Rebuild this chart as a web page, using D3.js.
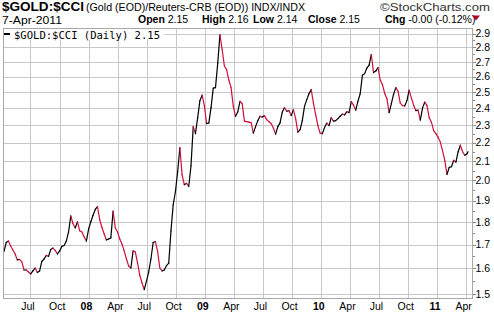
<!DOCTYPE html>
<html lang="en">
<head>
<meta charset="UTF-8" />
<title>$GOLD:$CCI</title>
<script src="https://d3js.org/d3.v7.min.js"></script>
<style>
  body { margin:0; padding:0; background:#fff; }
  svg { display:block; font-family:"Liberation Sans", Arial, sans-serif; }
  .grid line { stroke:#c8c8c8; stroke-width:1; shape-rendering:crispEdges; }
  .frame { fill:none; stroke:#a8a8a8; stroke-width:1; shape-rendering:crispEdges; }
</style>
</head>
<body>
<svg width="494" height="314"></svg>
<script>
(function(){
  // weekly closes of gold / Reuters-CRB, from the week of 9-Apr-2007, last one is 7-Apr-2011
  const firstWeek = new Date(2007, 3, 9);
  const lastDay = new Date(2011, 3, 7);
  const closes = [
    1.670, 1.709, 1.715, 1.694, 1.677, 1.660, 1.635, 1.637, 1.627, 1.594,
    1.594, 1.586, 1.578, 1.590, 1.602, 1.584, 1.590, 1.629, 1.639, 1.654,
    1.650, 1.679, 1.685, 1.675, 1.660, 1.673, 1.692, 1.696, 1.715, 1.755,
    1.828, 1.792, 1.773, 1.801, 1.760, 1.755, 1.733, 1.715, 1.768, 1.801,
    1.831, 1.858, 1.871, 1.810, 1.775, 1.746, 1.720, 1.724, 1.729, 1.850,
    1.773, 1.755, 1.724, 1.702, 1.673, 1.639, 1.610, 1.602, 1.673, 1.668,
    1.622, 1.572, 1.543, 1.517, 1.550, 1.586, 1.639, 1.709, 1.713, 1.671,
    1.602, 1.590, 1.594, 1.612, 1.622, 1.760, 1.880, 1.943, 2.044, 2.172,
    2.028, 1.978, 1.985, 1.970, 2.075, 2.291, 2.251, 2.344, 2.447, 2.481,
    2.416, 2.309, 2.312, 2.404, 2.526, 2.529, 2.689, 2.890, 2.785, 2.671,
    2.647, 2.578, 2.529, 2.412, 2.352, 2.377, 2.443, 2.428, 2.323, 2.320,
    2.317, 2.314, 2.254, 2.291, 2.326, 2.352, 2.347, 2.356, 2.332, 2.320,
    2.309, 2.283, 2.248, 2.291, 2.313, 2.377, 2.404, 2.382, 2.386, 2.356,
    2.392, 2.338, 2.259, 2.274, 2.326, 2.413, 2.453, 2.490, 2.516, 2.431,
    2.362, 2.297, 2.254, 2.251, 2.286, 2.312, 2.297, 2.344, 2.323, 2.326,
    2.338, 2.352, 2.365, 2.360, 2.380, 2.374, 2.441, 2.419, 2.389, 2.444,
    2.490, 2.610, 2.620, 2.657, 2.677, 2.750, 2.627, 2.637, 2.660, 2.578,
    2.548, 2.493, 2.459, 2.374, 2.428, 2.487, 2.529, 2.506, 2.431, 2.416,
    2.414, 2.447, 2.513, 2.463, 2.419, 2.386, 2.389, 2.329, 2.401, 2.438,
    2.416, 2.344, 2.317, 2.268, 2.251, 2.231, 2.203, 2.155, 2.104, 2.030,
    2.067, 2.070, 2.104, 2.094, 2.150, 2.186, 2.150, 2.131, 2.139,
    2.15
  ];
  const yTicks = [1.5, 1.6, 1.7, 1.8, 1.9, 2.0, 2.1, 2.2, 2.3, 2.4, 2.5, 2.6, 2.7, 2.8, 2.9];
  const yMinorTicks = [1.55, 1.65, 1.75, 1.85, 1.95, 2.05, 2.15, 2.25, 2.35, 2.45, 2.55, 2.65, 2.75, 2.85];
  const xTickLabels = ["Jul","Oct","08","Apr","Jul","Oct","09","Apr","Jul","Oct","10","Apr","Jul","Oct","11","Apr"];
  const stats = [["Open","2.15"],["High","2.16"],["Low","2.14"],["Close","2.15"],["Chg","-0.00 (-0.12%)"]];
  const statX = [138, 202, 253, 308, 385];

  const dates = d3.timeMonday.range(firstWeek, new Date(2011, 3, 5));
  dates.push(lastDay);
  const data = dates.map((d, i) => ({ date: d, v: closes[i] }));

  const svg = d3.select("svg");
  const L = 3.5, R = 472.5, T = 28.5, B = 298.5;

  const x = d3.scaleTime().domain([firstWeek, lastDay]).range([4, 468]);
  const y = d3.scaleLog().domain([1.5, 2.9]).range([294, 33.5]);

  // header
  svg.append("text").attr("x", 2).attr("y", 11)
    .attr("font-size", 12.5).attr("font-weight", "bold")
    .attr("textLength", 82).attr("lengthAdjust", "spacingAndGlyphs")
    .text("$GOLD:$CCI");
  svg.append("text").attr("x", 86).attr("y", 11).attr("font-size", 10)
    .attr("textLength", 219).attr("lengthAdjust", "spacingAndGlyphs")
    .text("(Gold (EOD)/Reuters-CRB (EOD)) INDX/INDX");
  svg.append("text").attr("x", 380).attr("y", 11).attr("font-size", 10).attr("fill", "#333")
    .attr("textLength", 110).attr("lengthAdjust", "spacingAndGlyphs")
    .text("\u00A9StockCharts.com");
  svg.append("text").attr("x", 2).attr("y", 23.5).attr("font-size", 10.5)
    .attr("textLength", 60).attr("lengthAdjust", "spacingAndGlyphs")
    .text("7-Apr-2011");
  stats.forEach((s, i) => {
    const t = svg.append("text").attr("x", statX[i]).attr("y", 23).attr("font-size", 10.5);
    t.append("tspan").attr("font-weight", "bold").text(s[0]);
    t.append("tspan").text(" " + s[1]);
  });
  svg.append("path").attr("d", "M472,15.5L480,15.5L476,20.5Z").attr("fill", "#a3002b");

  // grid
  const grid = svg.append("g").attr("class", "grid");
  const qTicks = d3.timeMonth.every(3).range(new Date(2007, 6, 1), new Date(2011, 4, 1));
  grid.selectAll(".v").data(qTicks).enter().append("line")
    .attr("x1", d => Math.round(x(d)) + 0.5).attr("x2", d => Math.round(x(d)) + 0.5)
    .attr("y1", T).attr("y2", B);
  grid.selectAll(".h").data(yTicks).enter().append("line")
    .attr("x1", L).attr("x2", R)
    .attr("y1", d => Math.round(y(d)) + 0.5).attr("y2", d => Math.round(y(d)) + 0.5);

  // price line, black on up weeks, red on down weeks
  const segs = data.slice(1).map((d, i) => ({ a: data[i], b: d }));
  svg.append("g").selectAll("line").data(segs).enter().append("line")
    .attr("x1", d => x(d.a.date)).attr("y1", d => y(d.a.v))
    .attr("x2", d => x(d.b.date)).attr("y2", d => y(d.b.v))
    .attr("stroke", d => d.b.v >= d.a.v ? "#000" : "#d0103a")
    .attr("stroke-width", 1.2).attr("stroke-linecap", "round");

  // frame
  svg.append("rect").attr("class", "frame")
    .attr("x", L).attr("y", T).attr("width", R - L).attr("height", B - T);

  // legend
  svg.append("rect").attr("x", 4).attr("y", 29).attr("width", 160).attr("height", 10.5).attr("fill", "#fff");
  svg.append("line").attr("x1", 4).attr("x2", 10).attr("y1", 34).attr("y2", 34)
    .attr("stroke", "#000").attr("stroke-width", 2);
  svg.append("text").attr("x", 14).attr("y", 38.5)
    .attr("font-family", "'DejaVu Sans Mono', monospace").attr("font-size", 10)
    .attr("textLength", 146).attr("lengthAdjust", "spacingAndGlyphs")
    .text("$GOLD:$CCI (Daily) " + closes[closes.length - 1].toFixed(2));

  // right axis
  const ax = svg.append("g");
  ax.selectAll(".mj").data(yTicks).enter().append("line")
    .attr("x1", R).attr("x2", R + 3.5)
    .attr("y1", d => Math.round(y(d)) + 0.5).attr("y2", d => Math.round(y(d)) + 0.5)
    .attr("stroke", "#888").attr("shape-rendering", "crispEdges");
  ax.selectAll(".mn").data(yMinorTicks).enter().append("line")
    .attr("x1", R).attr("x2", R + 2)
    .attr("y1", d => Math.round(y(d)) + 0.5).attr("y2", d => Math.round(y(d)) + 0.5)
    .attr("stroke", "#888").attr("shape-rendering", "crispEdges");
  ax.selectAll("text").data(yTicks).enter().append("text")
    .attr("x", 475.5).attr("y", d => y(d)).attr("dy", "0.36em")
    .attr("font-size", 10.5)
    .text(d => d.toFixed(1));

  // bottom axis
  svg.append("g").selectAll("text").data(qTicks).enter().append("text")
    .attr("x", d => x(d) - 2.5).attr("y", 309.5)
    .attr("text-anchor", "middle").attr("font-size", 10.5)
    .attr("font-weight", (d, i) => d.getMonth() === 0 ? "bold" : "normal")
    .text((d, i) => xTickLabels[i]);
})();
</script>
</body>
</html>
